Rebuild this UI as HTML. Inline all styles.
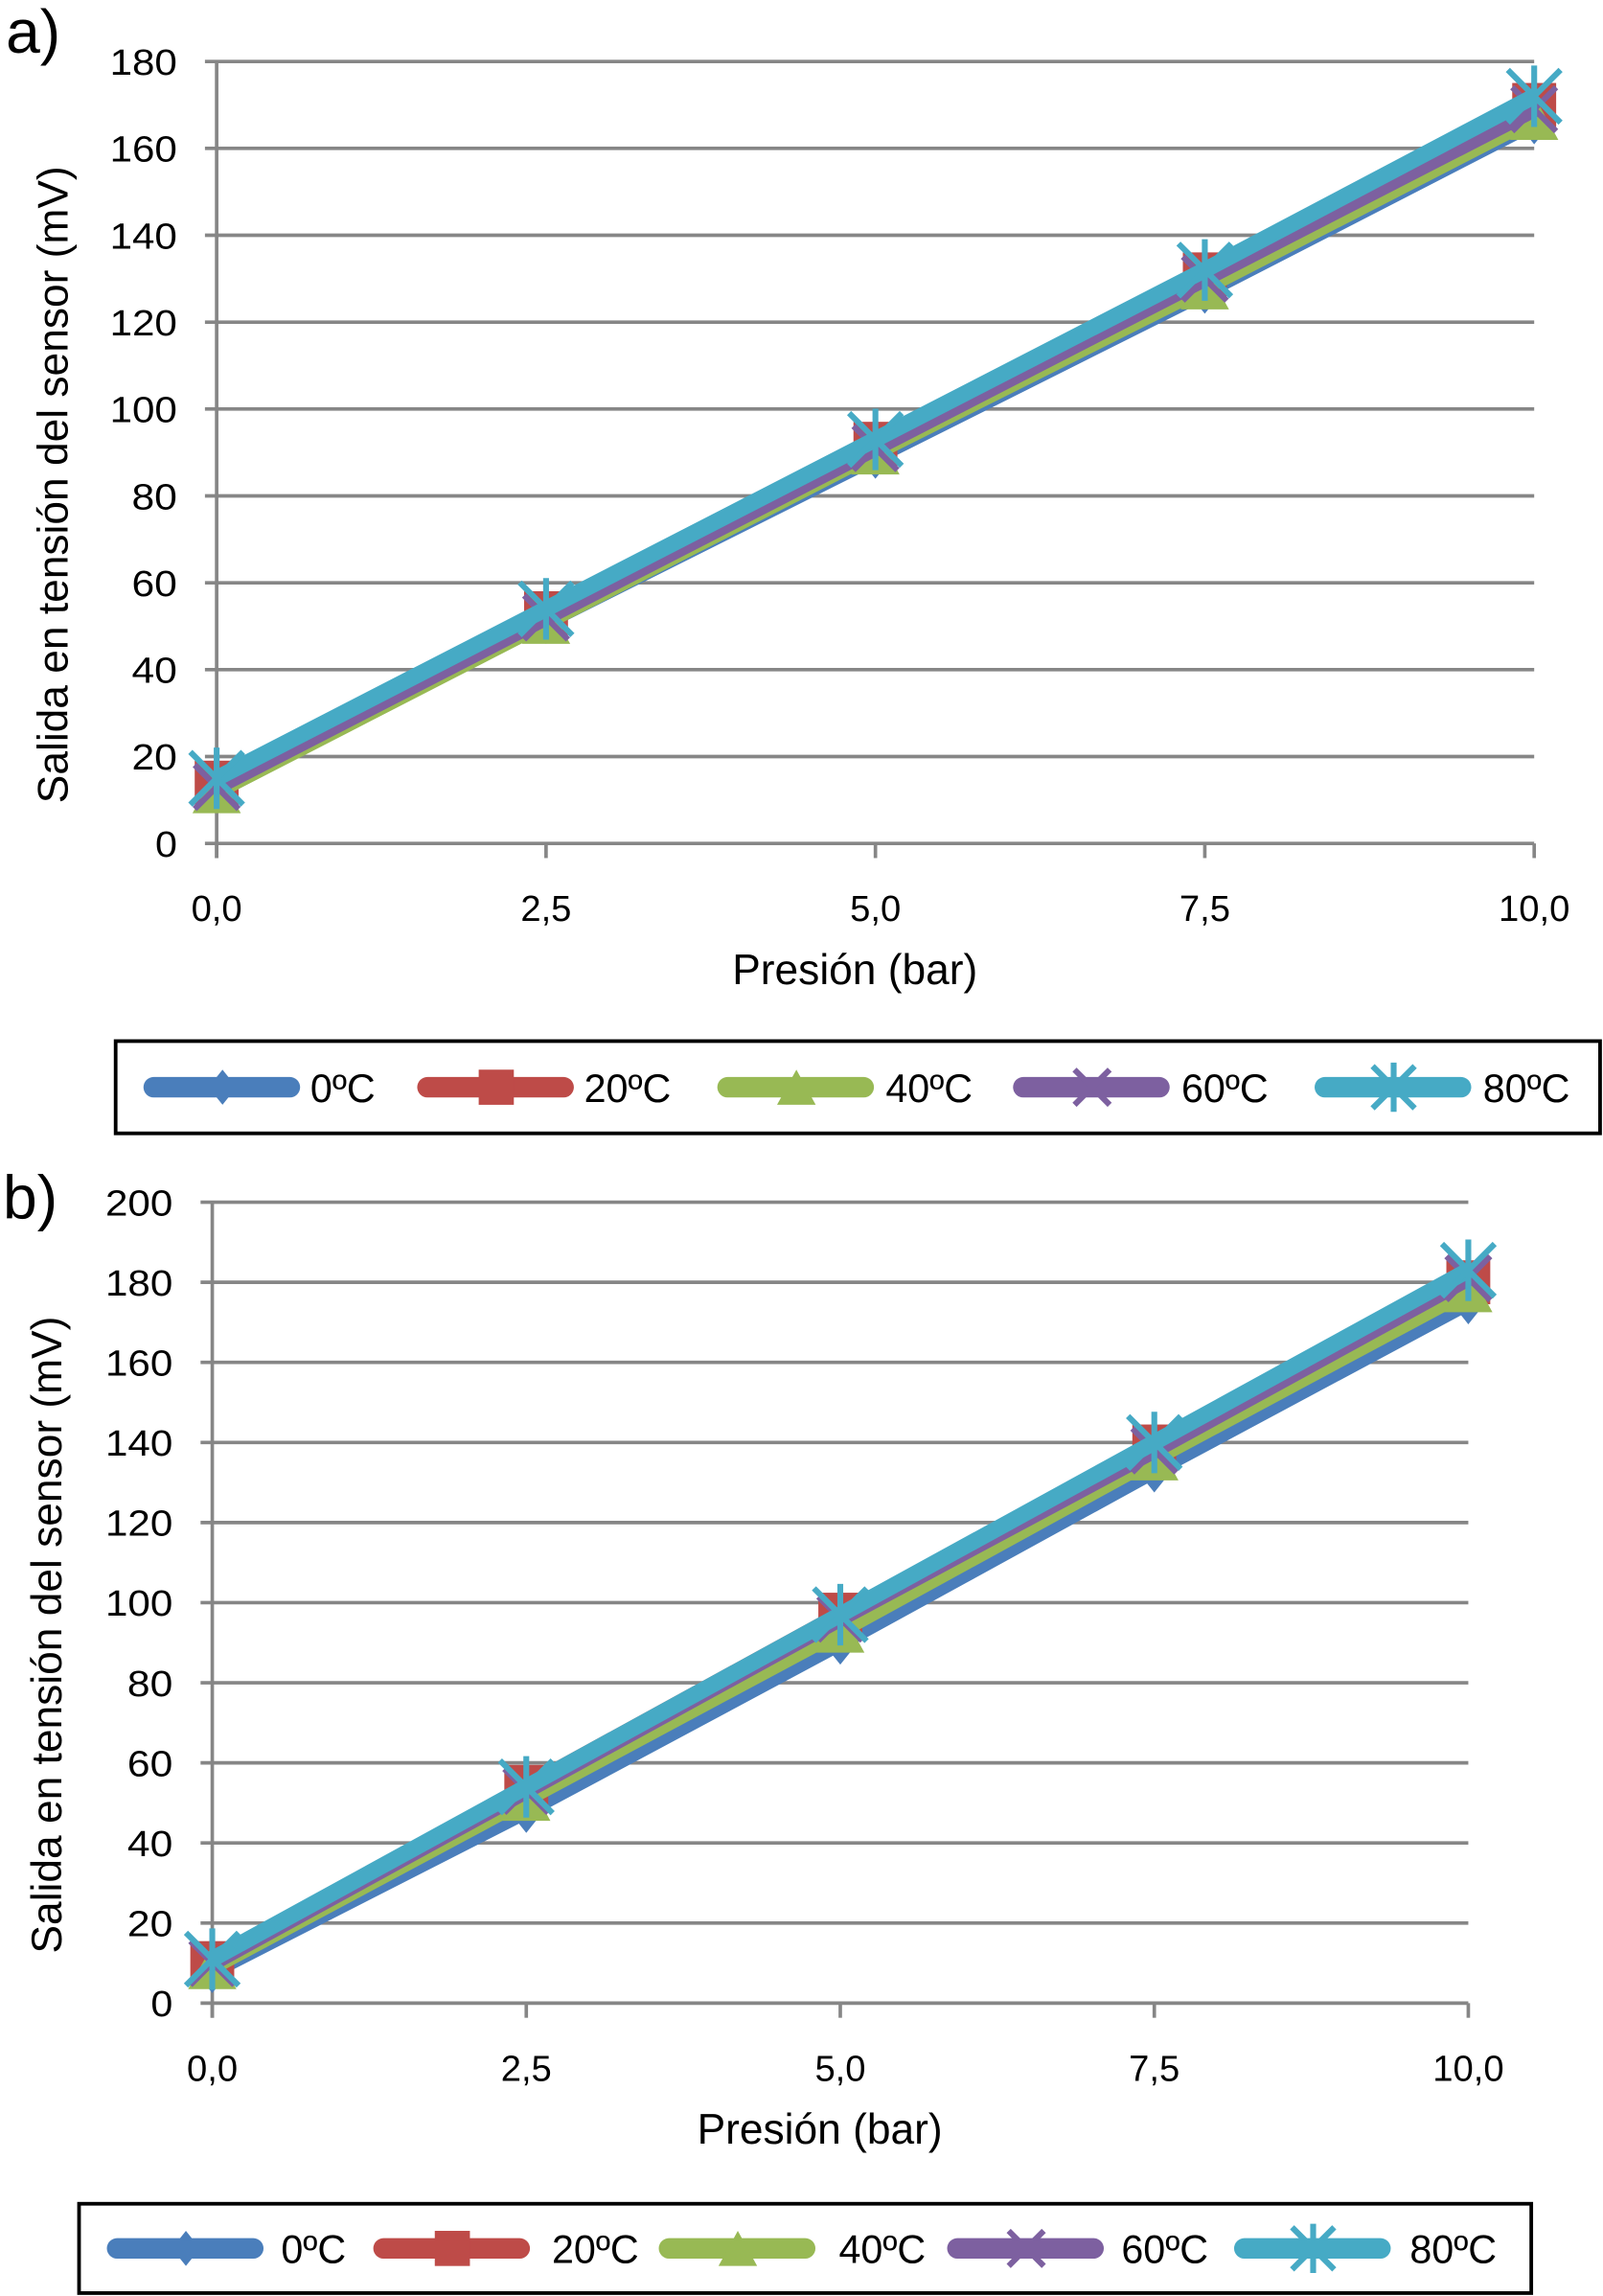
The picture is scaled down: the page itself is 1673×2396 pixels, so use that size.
<!DOCTYPE html>
<html><head><meta charset="utf-8"><style>
html,body{margin:0;padding:0;background:#fff}
svg{display:block}
text{font-family:"Liberation Sans",Arial,sans-serif;fill:#000}
</style></head><body>
<svg id="fig" width="1673" height="2396" viewBox="0 0 1095 1568" preserveAspectRatio="none" xmlns="http://www.w3.org/2000/svg"></svg>
<script>
const seriesNames = ["0ºC","20ºC","40ºC","60ºC","80ºC"];
const seriesColors = ["#4a7ebb","#be4b48","#98b954","#7d60a0","#46aac5"];
const xCats = [0, 2.5, 5, 7.5, 10];
const xTickLabels = ["0,0","2,5","5,0","7,5","10,0"];
const aTicks = [0,20,40,60,80,100,120,140,160,180];
const bTicks = [0,20,40,60,80,100,120,140,160,180,200];
const a0 = [13,51,89,127,166];
const a20 = [14,53,92,131,170];
const a40 = [12,51,90,128,167];
const a60 = [13,52,91,130,169];
const a80 = [15,54,93,132,172];
const b0 = [8,48,90,133,175];
const b20 = [10,54,97,139,180];
const b40 = [9,51,93,136,178];
const b60 = [10,53,96,138,181];
const b80 = [11,54,97,140,183];

const NS="http://www.w3.org/2000/svg";
const svg=document.getElementById('fig');
function mk(tag,attrs,parent){const e=document.createElementNS(NS,tag);for(const k in attrs)e.setAttribute(k,attrs[k]);(parent||svg).appendChild(e);return e;}

function marker(g,i,x,y,c,s){
  if(i===0){const m=mk('polygon',{points:`${x},${y-s} ${x+s*0.8},${y} ${x},${y+s} ${x-s*0.8},${y}`,fill:c},g);}
  else if(i===1){const m=mk('rect',{x:x-s,y:y-s,width:2*s,height:2*s,fill:c},g);}
  else if(i===2){const m=mk('polygon',{points:`${x},${y-s} ${x+s*1.1},${y+s} ${x-s*1.1},${y+s}`,fill:c},g);}
  else if(i===3){const m=mk('path',{d:`M${x-s} ${y-s}L${x+s} ${y+s}M${x+s} ${y-s}L${x-s} ${y+s}`,stroke:c,'stroke-width':4},g);}
  else {const m=mk('path',{d:`M${x-s*1.2} ${y-s*1.2}L${x+s*1.2} ${y+s*1.2}M${x+s*1.2} ${y-s*1.2}L${x-s*1.2} ${y+s*1.2}M${x} ${y-s*1.4}L${x} ${y+s*1.4}`,stroke:c,'stroke-width':4},g);}
}

function chart(cfg){
  const g=mk('g',{});
  
  
  const xs=v=>cfg.x0+(v-0)/(10)*(cfg.x1-cfg.x0);
  const ys=v=>cfg.y0-(v/cfg.ymax)*(cfg.y0-cfg.y1);
  const lab=mk('text',{x:cfg.lx,y:cfg.ly,'font-size':42},g);lab.textContent=cfg.label;
  
  cfg.ticks.forEach(t=>{
    const y=ys(t);
    const l=mk('line',{x1:cfg.x0-8,x2:cfg.x1,y1:y,y2:y,stroke:'#868686','stroke-width':2.4},g);
    
    const tx=mk('text',{x:cfg.x0-27,y:y+9,'font-size':25,'text-anchor':'end',textLength:t>=100?46:(t>0?31:15),lengthAdjust:'spacingAndGlyphs'},g);tx.textContent=t;
    
  });
  const ax=mk('line',{x1:cfg.x0,x2:cfg.x0,y1:cfg.y1,y2:cfg.y0+10,stroke:'#868686','stroke-width':2.4},g);
  
  xCats.forEach((c,i)=>{
    const x=xs(c);
    const tk=mk('line',{x1:x,x2:x,y1:cfg.y0,y2:cfg.y0+10,stroke:'#868686','stroke-width':2.4},g);
    
    const tx=mk('text',{x:x,y:cfg.y0+53,'font-size':25,'text-anchor':'middle'},g);tx.textContent=xTickLabels[i];
    
  });
  const xt=mk('text',{x:(cfg.x0+cfg.x1)/2-14,y:cfg.y0+96,'font-size':29,'text-anchor':'middle'},g);xt.textContent='Presión (bar)';
  
  const cy=(cfg.y0+cfg.y1)/2+22;
  const yt=mk('text',{x:cfg.yx,y:cy,'font-size':29,'text-anchor':'middle',transform:`rotate(-90 ${cfg.yx} ${cy})`},g);yt.textContent='Salida en tensión del sensor (mV)';
  
  cfg.data.forEach((d,i)=>{
    const pts=d.map((v,j)=>xs(xCats[j])+','+ys(v)).join(' ');
    const pl=mk('polyline',{points:pts,fill:'none',stroke:seriesColors[i],'stroke-width':11,'stroke-linejoin':'round'},g);
    
    d.forEach((v,j)=>marker(g,i,xs(xCats[j]),ys(v),seriesColors[i],15));
  });
  const lb=mk('rect',{x:cfg.lg.x,y:cfg.lg.y,width:cfg.lg.w,height:cfg.lg.h,fill:'none',stroke:'#000','stroke-width':2.5},g);
  
  const ly=cfg.lg.y+cfg.lg.h/2;
  cfg.lg.starts.forEach((sx,i)=>{
    const e=mk('g',{},g);
    
    mk('line',{x1:sx+5,x2:sx+98,y1:ly,y2:ly,stroke:seriesColors[i],'stroke-width':14,'stroke-linecap':'round'},e);
    marker(e,i,sx+52,ly,seriesColors[i],12);
    const t=mk('text',{x:sx+cfg.lg.tx[i],y:ly+10,'font-size':27},e);t.textContent=seriesNames[i];
  });
}
chart({name:'chart-a',label:'a)',lx:4,ly:36,x0:148,x1:1048,y0:576,y1:42,ymax:180,ticks:aTicks,yx:46,
  data:[a0,a20,a40,a60,a80],
  lg:{x:79,y:711,w:1014,h:63,starts:[100,287,492,694,900],tx:[112,112,113,113,113]}});
chart({name:'chart-b',label:'b)',lx:2,ly:832,x0:145,x1:1003,y0:1368,y1:821,ymax:200,ticks:bTicks,yx:42,
  data:[b0,b20,b40,b60,b80],
  lg:{x:54,y:1505,w:992,h:61,starts:[75,257,452,649,845],tx:[117,120,121,117,118]}});
</script>
</body></html>
